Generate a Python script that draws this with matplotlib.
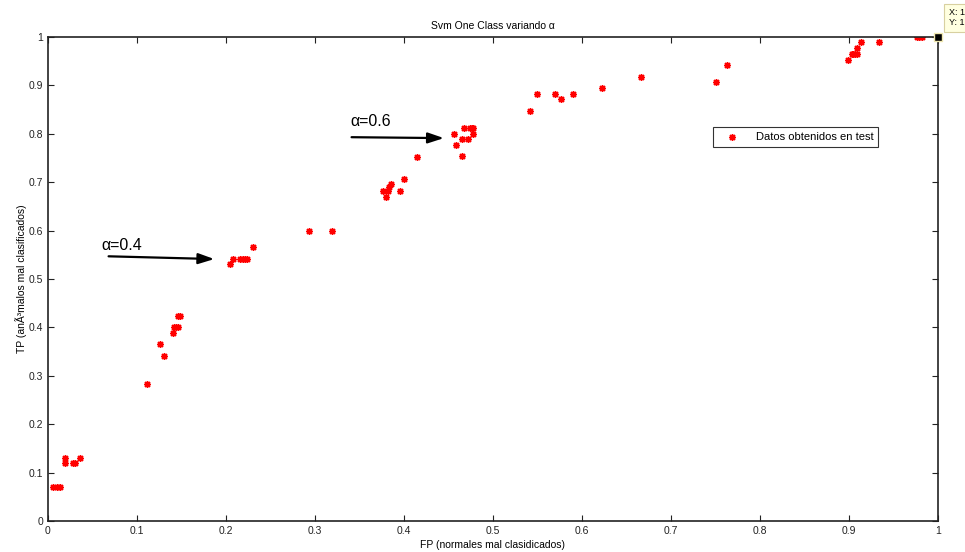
import numpy as np
import matplotlib
matplotlib.use("Agg")
import matplotlib.pyplot as plt

plt.rcParams['font.family'] = ['Liberation Sans', 'DejaVu Sans']

# FP / TP pairs
fp = [0.006, 0.010, 0.013, 0.019, 0.019, 0.028, 0.030, 0.036,
      0.111, 0.126, 0.130, 0.141, 0.142, 0.144, 0.146, 0.146, 0.148,
      0.204, 0.208, 0.216, 0.219, 0.221, 0.224, 0.230,
      0.293, 0.319,
      0.376, 0.380, 0.382, 0.383, 0.385, 0.395, 0.400, 0.415,
      0.456, 0.459, 0.465, 0.465, 0.467, 0.472, 0.474, 0.476, 0.478, 0.478,
      0.542, 0.550, 0.570, 0.576, 0.590, 0.622, 0.666, 0.751, 0.763,
      0.899, 0.903, 0.905, 0.907, 0.909, 0.909, 0.913, 0.934,
      0.976, 0.979, 0.982]
tp = [0.070, 0.070, 0.070, 0.130, 0.120, 0.120, 0.120, 0.130,
      0.283, 0.365, 0.341, 0.388, 0.400, 0.400, 0.400, 0.424, 0.424,
      0.531, 0.541, 0.541, 0.541, 0.541, 0.541, 0.566,
      0.599, 0.599,
      0.682, 0.670, 0.682, 0.690, 0.696, 0.682, 0.707, 0.753,
      0.800, 0.777, 0.789, 0.754, 0.812, 0.789, 0.812, 0.812, 0.812, 0.800,
      0.847, 0.883, 0.883, 0.871, 0.883, 0.894, 0.918, 0.907, 0.942,
      0.953, 0.965, 0.965, 0.965, 0.965, 0.977, 0.990, 0.990,
      1.0, 1.0, 1.0]

ticks = np.arange(0, 1.01, 0.1)
tick_labels = ['0'] + ['%.1f' % t for t in ticks[1:-1]] + ['1']

fig = plt.figure(figsize=(9.65, 5.52), dpi=100)
ax = fig.add_axes([0.0497, 0.0562, 0.9223, 0.8768])

ax.plot(fp, tp, linestyle='none', marker=(8, 2, 0), color='red',
        markersize=5, markeredgewidth=1.0, label='Datos obtenidos en test')
# data tip
ax.plot([1], [1], marker='s', color='black', markersize=6,
        markeredgecolor='#f0e8b0', markeredgewidth=1, clip_on=False, zorder=5)

ax.set_xlim(0, 1)
ax.set_ylim(0, 1)
ax.set_xticks(ticks)
ax.set_yticks(ticks)
ax.set_xticklabels(tick_labels)
ax.set_yticklabels(tick_labels)
ax.tick_params(direction='in', top=True, right=True, labelsize=7.5,
               length=4, width=0.8, colors='#222222')
for s in ax.spines.values():
    s.set_linewidth(1.2)
    s.set_color('#222222')

ax.set_title(u'Svm One Class variando \u03b1', fontsize=7.5, pad=6)
ax.set_xlabel('FP (normales mal clasidicados)', fontsize=7.5, labelpad=3)
ax.set_ylabel(u'TP (an\u00c3\u00b3malos mal clasificados)', fontsize=7.5, labelpad=1)

ax.annotate('', xy=(0.19, 0.541), xytext=(0.065, 0.547),
            arrowprops=dict(arrowstyle='-|>,head_length=0.6,head_width=0.2',
                            color='black', lw=1.6, mutation_scale=16))
ax.text(0.06, 0.57, u'\u03b1=0.4', fontsize=11.5, va='center')
ax.annotate('', xy=(0.448, 0.791), xytext=(0.338, 0.793),
            arrowprops=dict(arrowstyle='-|>,head_length=0.6,head_width=0.2',
                            color='black', lw=1.6, mutation_scale=16))
ax.text(0.34, 0.826, u'\u03b1=0.6', fontsize=11.5, va='center')

leg = ax.legend(loc='upper left', bbox_to_anchor=(0.747, 0.813), fontsize=8,
                frameon=True, fancybox=False, edgecolor='black',
                borderpad=0.45, handlelength=2.6, borderaxespad=0,
                markerscale=1.0)
leg.get_frame().set_linewidth(0.8)

fig.text(0.983, 0.968, 'X: 1\nY: 1', fontsize=6.5, va='center', ha='left',
         linespacing=1.1,
         bbox=dict(boxstyle='square,pad=0.5', facecolor='#ffffe0',
                   edgecolor='#d8d0a0', linewidth=0.8))

fig.savefig('out.png', dpi=100, facecolor='white')
